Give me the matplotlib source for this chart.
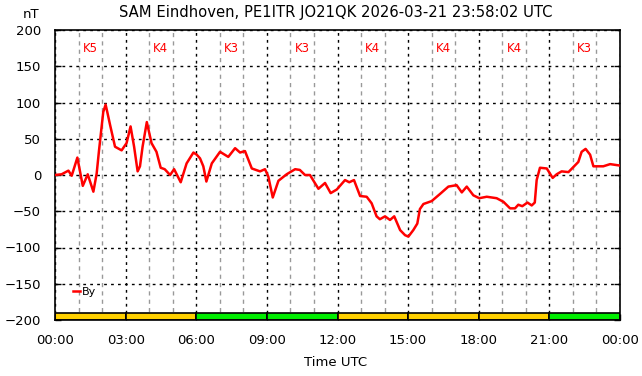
import matplotlib
matplotlib.use("Agg")
import matplotlib.pyplot as plt
from matplotlib.ticker import MultipleLocator, FixedLocator

# By component (hours UTC, nT)
hours = [0, 0.28, 0.57, 0.71, 0.95, 1.18, 1.39, 1.63, 1.77, 1.87, 2.05, 2.15, 2.22,
         2.34, 2.55, 2.83, 3.04, 3.21, 3.36, 3.51, 3.61, 3.72, 3.9, 4.1, 4.31, 4.49,
         4.66, 4.89, 5.06, 5.34, 5.59, 5.88, 6.02, 6.16, 6.3, 6.43, 6.66, 7.01, 7.36,
         7.65, 7.86, 8.07, 8.36, 8.71, 8.92, 9.06, 9.25, 9.49, 9.84, 10.2, 10.4, 10.62,
         10.83, 11.19, 11.47, 11.71, 11.97, 12.32, 12.5, 12.7, 12.96, 13.24, 13.45,
         13.66, 13.8, 14.02, 14.23, 14.41, 14.66, 14.87, 15.01, 15.22, 15.39, 15.5,
         15.65, 16.0, 16.36, 16.71, 17.06, 17.28, 17.49, 17.77, 18.02, 18.34, 18.76,
         19.05, 19.33, 19.54, 19.68, 19.85, 20.07, 20.25, 20.38, 20.46, 20.6, 20.89,
         21.14, 21.31, 21.52, 21.81, 22.02, 22.23, 22.37, 22.54, 22.73, 22.87, 23.29,
         23.58, 24.0]
by_nt = [0, 1, 6, -1, 24, -15, 1, -23, 2, 34, 87, 97, 87,
         69, 39, 34, 44, 67, 39, 5, 12, 39, 73, 44, 32, 10,
         8, 0, 8, -10, 16, 31, 28, 23, 12, -9, 16, 32, 25,
         37, 31, 33, 9, 5, 8, -2, -31, -8, 1, 8, 7, 0,
         0, -19, -11, -25, -20, -7, -10, -7, -29, -30, -39,
         -57, -61, -57, -62, -57, -76, -83, -85, -76, -67, -47,
         -40, -36, -26, -16, -14, -24, -16, -28, -32, -30, -32,
         -37, -46, -46, -41, -43, -38, -42, -38, -7, 10, 9,
         -4, 1, 5, 4, 11, 18, 32, 36, 28, 12, 12,
         15, 13]

# 3-hourly K index
k_start = [0, 3, 6, 9, 12, 15, 18, 21]
k_index = [5, 4, 3, 3, 4, 4, 4, 3]

tick_hours = [0, 3, 6, 9, 12, 15, 18, 21, 24]
tick_labels = ["00:00", "03:00", "06:00", "09:00", "12:00", "15:00", "18:00", "21:00", "00:00"]

title = "SAM Eindhoven, PE1ITR JO21QK 2026-03-21 23:58:02 UTC"

fig = plt.figure(figsize=(6.42, 3.76), dpi=100)
ax = fig.add_axes([55 / 642, 56 / 376, 565 / 642, 290 / 376])

ax.set_xlim(0, 24)
ax.set_ylim(-200, 200)

# grid: black dotted majors, grey dotted hourly minors
ax.xaxis.set_major_locator(FixedLocator(tick_hours))
ax.xaxis.set_minor_locator(MultipleLocator(1))
ax.yaxis.set_major_locator(MultipleLocator(50))
ax.set_xticklabels(tick_labels)
ax.grid(which="major", color="black", linestyle=(0, (2, 3)), linewidth=1)
ax.grid(which="minor", axis="x", color="#999999", linestyle=(0, (3, 3)), linewidth=1)
ax.set_axisbelow(True)

ax.tick_params(which="major", direction="in", length=4, width=1, pad=10,
               labelsize=9.5, top=False, right=True)
ax.tick_params(which="minor", length=0)
for s in ax.spines.values():
    s.set_linewidth(1.2)

# K index bars along the bottom
colors = {3: "#00ee00", 4: "#ffd000", 5: "#ffd000"}
for st, k in zip(k_start, k_index):
    ax.bar(st, 10, width=3, bottom=-200, align="edge", color=colors[k],
           edgecolor="black", linewidth=1.2, zorder=2)
    ax.text(st + 1.5, 175, f"K{k}", color="red", fontsize=8.5,
            ha="center", va="center", zorder=3)

ax.plot(hours, by_nt, color="red", linewidth=1.8, label="By", zorder=4)

ax.legend(loc="lower left", bbox_to_anchor=(0.015, 0.045), frameon=False,
          handlelength=0.6, handletextpad=0.15, fontsize=8)

fig.text(336 / 642, 1 - 12 / 376, title, ha="center", va="center", fontsize=10.6)
fig.text(31 / 642, 1 - 14 / 376, "nT", ha="center", va="center", fontsize=9.5)
fig.text(336 / 642, 1 - 362 / 376, "Time UTC", ha="center", va="center", fontsize=9.5)

fig.savefig("out.png", dpi=100)
